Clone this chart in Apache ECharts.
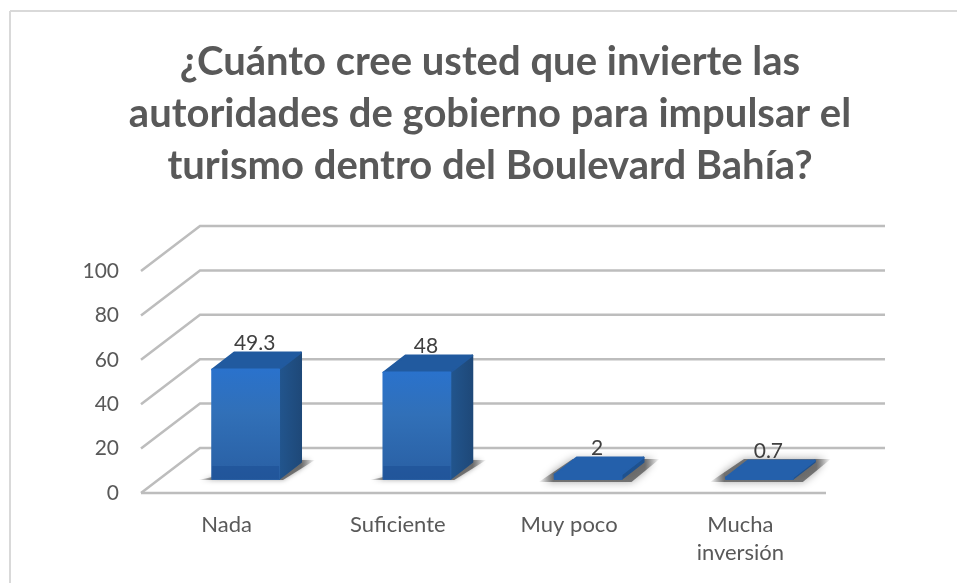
<!DOCTYPE html>
<html>
<head>
<meta charset="utf-8">
<title>Boulevard Bahía</title>
<script src="https://cdn.jsdelivr.net/npm/echarts@6/dist/echarts.min.js"></script>
<style>
  html, body { margin: 0; padding: 0; background: #fff; }
  #chart { width: 957px; height: 583px; }
</style>
</head>
<body>
<div id="chart"></div>
<script>
// values
const categories = ["Nada", "Suficiente", "Muy poco", "Mucha\ninversión"];
const values = [49.3, 48, 2, 0.7];
const valueTicks = [0, 20, 40, 60, 80, 100];
const titleText = "¿Cuánto cree usted que invierte las\nautoridades de gobierno para impulsar el\nturismo dentro del Boulevard Bahía?";

// fake 3D look, all in pixels
const wallDx = 59, wallDy = -45;   // floor depth
const barShiftX = 19, barShiftY = -14; // bar front face inside the floor
const barDx = 22, barDy = -17;     // bar depth
const barWidthRatio = 0.39;

const chart = echarts.init(document.getElementById("chart"));

function renderGridLine(params, api) {
  const tick = api.value(1);
  const left = api.coord([0, tick]);
  const size = api.size([1, 0])[0];
  const x0 = left[0] - size / 2;
  const x1 = x0 + size * categories.length;
  const y = left[1];
  const lineStyle = { stroke: "#bdbdbd", lineWidth: 2.5, fill: null };
  const points = [[x0, y], [x0 + wallDx, y + wallDy], [x1 + wallDx, y + wallDy]];
  const children = [{ type: "polyline", shape: { points }, style: lineStyle }];
  if (tick === 0) {
    children.push({ type: "line", shape: { x1: x0, y1: y, x2: x1, y2: y }, style: lineStyle });
  }
  return { type: "group", children };
}

function renderBar(params, api) {
  const top = api.coord([api.value(0), api.value(1)]);
  const base = api.coord([api.value(0), 0]);
  const w = api.size([1, 0])[0] * barWidthRatio;
  const xl = top[0] + barShiftX - w / 2;
  const xr = xl + w;
  const yb = base[1] + barShiftY;
  const yt = top[1] + barShiftY;
  const flat = yb - yt < 20;

  const front = flat ? "#2460ab" : new echarts.graphic.LinearGradient(0, 0, 0, 1, [
    { offset: 0, color: "#2a72cc" },
    { offset: 0.4, color: "#3170b8" },
    { offset: 1, color: "#295fa3" }
  ]);
  const side = new echarts.graphic.LinearGradient(0, 0, 1, 0, [
    { offset: 0, color: "#22568f" },
    { offset: 1, color: "#1e4878" }
  ]);

  const face = (points, fill) => ({
    type: "polygon",
    shape: { points },
    style: { fill, stroke: fill, lineWidth: 2, lineJoin: "round" }
  });

  const children = [];
  // soft shadow on the floor
  const shadowFill = new echarts.graphic.LinearGradient(0, 0, 1, 0, [
    { offset: 0, color: "rgba(90,90,90,0)" },
    { offset: 0.12, color: "rgba(90,90,90,0.8)" },
    { offset: 0.88, color: "rgba(90,90,90,0.8)" },
    { offset: 1, color: "rgba(90,90,90,0)" }
  ]);
  children.push({
    type: "polygon",
    shape: {
      points: flat
        ? [[xl - 16, yb + 3], [xr + 10, yb + 3], [xr + barDx + 16, yb + barDy - 3], [xl + barDx - 4, yb + barDy - 3]]
        : [[xl - 14, yb + 1], [xr + 4, yb + 1], [xr + barDx + 14, yb - 19], [xr + barDx - 8, yb - 19]]
    },
    style: { fill: shadowFill, shadowColor: "rgba(100,100,100,0.7)", shadowBlur: flat ? 8 : 5 }
  });
  children.push(face([[xr, yb], [xr + barDx, yb + barDy], [xr + barDx, yt + barDy], [xr, yt]], flat ? "#1f528f" : side));
  children.push(face([[xl, yt], [xr, yt], [xr + barDx, yt + barDy], [xl + barDx, yt + barDy]], flat ? "#2460ab" : "#215a9f"));
  children.push(face([[xl, yt], [xr, yt], [xr, yb], [xl, yb]], front));
  if (!flat) {
    // darker strip at the foot of the bar
    children.push({
      type: "rect",
      shape: { x: xl, y: yb - 13, width: w, height: 13 },
      style: { fill: "rgba(25,75,145,0.5)" }
    });
  }
  children.push({
    type: "text",
    style: {
      text: String(api.value(1)),
      x: xl + w / 2 + barDx / 2 - 2,
      y: yt + barDy - 9,
      align: "center",
      verticalAlign: "middle",
      font: "21px Lato",
      fill: "#404040"
    }
  });
  return { type: "group", children };
}

const option = {
  animation: false,
  backgroundColor: "#fff",
  title: {
    text: titleText,
    left: 485,
    top: 31,
    textAlign: "center",
    textStyle: {
      color: "#595959",
      fontFamily: "Lato",
      fontWeight: "bold",
      fontSize: 40,
      lineHeight: 52
    }
  },
  graphic: [
    {
      type: "line",
      silent: true,
      shape: { x1: 10, y1: 11, x2: 957, y2: 11 },
      style: { stroke: "#d9d9d9", lineWidth: 2 }
    },
    {
      type: "line",
      silent: true,
      shape: { x1: 10, y1: 11, x2: 10, y2: 583 },
      style: { stroke: "#d9d9d9", lineWidth: 2 }
    }
  ],
  grid: { left: 141, top: 271, width: 685, height: 222 },
  xAxis: {
    type: "category",
    data: categories,
    axisLine: { show: false },
    axisTick: { show: false },
    axisLabel: { color: "#595959", fontFamily: "Lato", fontSize: 22, lineHeight: 28, margin: 18 }
  },
  yAxis: {
    type: "value",
    min: 0,
    max: 100,
    interval: 20,
    axisLine: { show: false },
    axisTick: { show: false },
    splitLine: { show: false },
    axisLabel: { color: "#595959", fontFamily: "Lato", fontSize: 21, margin: 22 }
  },
  series: [
    {
      type: "custom",
      renderItem: renderGridLine,
      clip: false,
      silent: true,
      z: 1,
      encode: { x: 0, y: 1 },
      data: valueTicks.map(t => [0, t])
    },
    {
      type: "custom",
      renderItem: renderBar,
      clip: false,
      z: 2,
      encode: { x: 0, y: 1 },
      data: values.map((v, i) => [i, v])
    }
  ]
};

chart.setOption(option);
window.addEventListener("resize", () => chart.resize());
</script>
</body>
</html>
